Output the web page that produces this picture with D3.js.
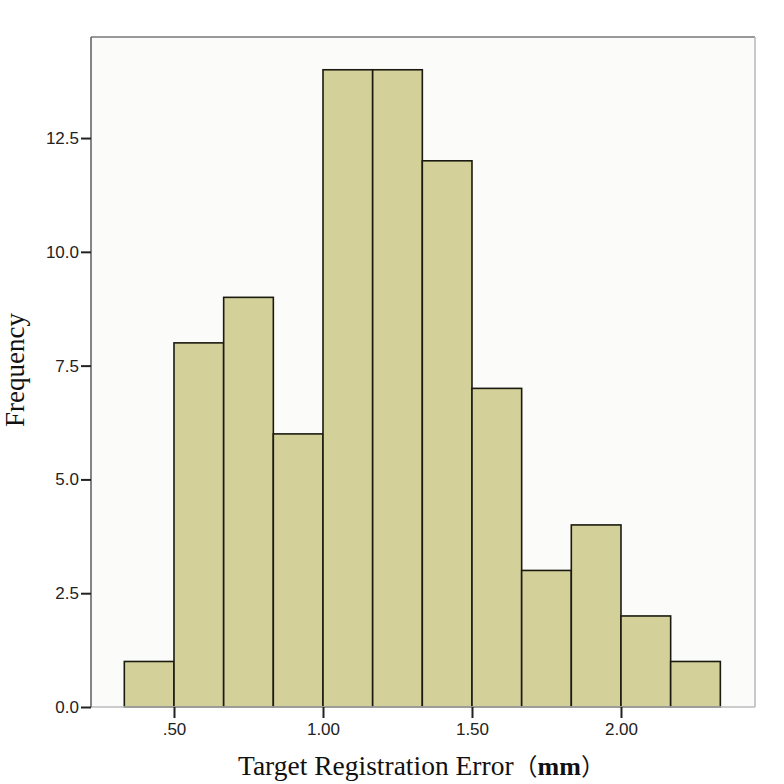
<!DOCTYPE html>
<html><head><meta charset="utf-8">
<script src="https://cdn.jsdelivr.net/npm/d3@7"></script>
<style>html,body{margin:0;padding:0;background:#fff}</style>
</head><body>
<svg id="c" width="784" height="784"></svg>
<script>
const binStart = [0.3333,0.5,0.6667,0.8333,1.0,1.1667,1.3333,1.5,1.6667,1.8333,2.0,2.1667];
const binWidth = 1/6;
const counts = [1,8,9,6,14,14,12,7,3,4,2,1];
const xTicks = [0.5,1.0,1.5,2.0];
const xTickLabels = [".50","1.00","1.50","2.00"];
const yTicks = [0,2.5,5,7.5,10,12.5];
const yTickLabels = ["0.0","2.5","5.0","7.5","10.0","12.5"];

const svg = d3.select("#c");
const L=91,R=755,T=37,B=707;
const x = d3.scaleLinear().domain([0.2215,2.4497]).range([L,R]);
const y = d3.scaleLinear().domain([0,14.72]).range([B,T]);

svg.append("rect").attr("x",L).attr("y",T).attr("width",R-L).attr("height",B-T).attr("fill","#fbfbf9");

svg.append("g").selectAll("rect").data(counts).join("rect")
  .attr("x",(d,i)=>x(binStart[i]))
  .attr("width",(d,i)=>x(binStart[i]+binWidth)-x(binStart[i]))
  .attr("y",d=>y(d)).attr("height",d=>y(0)-y(d))
  .attr("fill","#d4d09a").attr("stroke","#1a1a10").attr("stroke-width",1.6);

// frame
svg.append("line").attr("x1",L).attr("x2",R).attr("y1",T).attr("y2",T).attr("stroke","#777").attr("stroke-width",1.6);
svg.append("line").attr("x1",R).attr("x2",R).attr("y1",T).attr("y2",B).attr("stroke","#bbb").attr("stroke-width",1.6);
svg.append("line").attr("x1",L).attr("x2",R).attr("y1",B).attr("y2",B).attr("stroke","#bbb").attr("stroke-width",1.4);

const xa = d3.axisBottom(x).tickValues(xTicks).tickFormat((d,i)=>xTickLabels[i]).tickSize(11).tickPadding(5);
const gx = svg.append("g").attr("transform",`translate(0,${B})`).call(xa);
gx.select(".domain").remove();
gx.selectAll("line").attr("stroke","#222").attr("stroke-width",2);
gx.selectAll("text").attr("font-family","Liberation Sans, Arial, sans-serif").attr("font-size",17).attr("fill","#222");

const ya = d3.axisLeft(y).tickValues(yTicks).tickFormat((d,i)=>yTickLabels[i]).tickSize(10).tickPadding(2);
const gy = svg.append("g").attr("transform",`translate(${L},0)`).call(ya);
gy.select(".domain").attr("stroke","#666").attr("stroke-width",1.6).attr("d",`M0,${T}V${B}`);
gy.selectAll("line").attr("stroke","#222").attr("stroke-width",2);
gy.selectAll("text").attr("font-family","Liberation Sans, Arial, sans-serif").attr("font-size",17).attr("fill","#222");

const xt = svg.append("text").attr("x",238).attr("y",775)
  .attr("font-family","Liberation Serif, Times New Roman, serif").attr("font-size",27.5).attr("fill","#111");
xt.append("tspan").text("Target Registration Error");
xt.append("tspan").attr("font-family","Noto Sans CJK SC").attr("font-size",24).text("（");
xt.append("tspan").attr("font-weight","bold").attr("font-size",26).text("mm");
xt.append("tspan").attr("font-family","Noto Sans CJK SC").attr("font-size",24).text("）");

svg.append("text").attr("transform","translate(24,370) rotate(-90)").attr("text-anchor","middle")
  .attr("font-family","Liberation Serif, Times New Roman, serif").attr("font-size",27).attr("fill","#111")
  .text("Frequency");
</script>
</body></html>
